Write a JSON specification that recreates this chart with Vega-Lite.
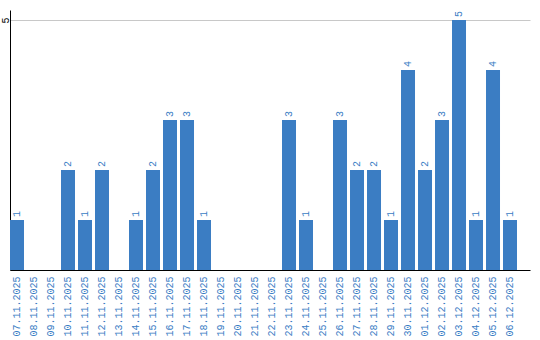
{
  "$schema": "https://vega.github.io/schema/vega-lite/v6.json",
  "width": 520,
  "height": 260,
  "autosize": {"type": "none"},
  "padding": {"left": 10, "top": 10, "right": 10, "bottom": 70},
  "background": "white",
  "config": {"view": {"stroke": null}},
  "data": {"values": [
    {"date": "07.11.2025", "count": 1},
    {"date": "08.11.2025", "count": 0},
    {"date": "09.11.2025", "count": 0},
    {"date": "10.11.2025", "count": 2},
    {"date": "11.11.2025", "count": 1},
    {"date": "12.11.2025", "count": 2},
    {"date": "13.11.2025", "count": 0},
    {"date": "14.11.2025", "count": 1},
    {"date": "15.11.2025", "count": 2},
    {"date": "16.11.2025", "count": 3},
    {"date": "17.11.2025", "count": 3},
    {"date": "18.11.2025", "count": 1},
    {"date": "19.11.2025", "count": 0},
    {"date": "20.11.2025", "count": 0},
    {"date": "21.11.2025", "count": 0},
    {"date": "22.11.2025", "count": 0},
    {"date": "23.11.2025", "count": 3},
    {"date": "24.11.2025", "count": 1},
    {"date": "25.11.2025", "count": 0},
    {"date": "26.11.2025", "count": 3},
    {"date": "27.11.2025", "count": 2},
    {"date": "28.11.2025", "count": 2},
    {"date": "29.11.2025", "count": 1},
    {"date": "30.11.2025", "count": 4},
    {"date": "01.12.2025", "count": 2},
    {"date": "02.12.2025", "count": 3},
    {"date": "03.12.2025", "count": 5},
    {"date": "04.12.2025", "count": 1},
    {"date": "05.12.2025", "count": 4},
    {"date": "06.12.2025", "count": 1}
  ]},
  "encoding": {
    "x": {
      "field": "date", "type": "ordinal", "sort": null,
      "scale": {"paddingInner": 0.1765, "paddingOuter": 0.382, "align": 0},
      "axis": {
        "title": null, "ticks": false, "domainColor": "black", "domainWidth": 1,
        "labelAngle": -90, "labelAlign": "right", "labelBaseline": "middle",
        "labelPadding": 6, "labelFont": "Liberation Mono", "labelFontSize": 10,
        "labelColor": "#3a7dc4"
      }
    },
    "y": {
      "field": "count", "type": "quantitative",
      "scale": {"domain": [0, 5.2], "nice": false},
      "axis": {
        "title": null, "values": [5], "ticks": false, "domainColor": "black",
        "gridColor": "#c8c8c8", "labelAngle": -90, "labelAlign": "center",
        "labelBaseline": "middle", "labelPadding": 5,
        "labelFont": "Liberation Mono", "labelFontSize": 10, "labelColor": "black"
      }
    }
  },
  "layer": [
    {"mark": {"type": "bar", "color": "#3b7dc3"}},
    {
      "transform": [{"filter": "datum.count > 0"}],
      "mark": {"type": "text", "angle": -90, "align": "left", "baseline": "middle",
               "dx": 3, "font": "Liberation Mono", "fontSize": 10, "color": "#3a7dc4"},
      "encoding": {"text": {"field": "count", "type": "quantitative"}}
    }
  ]
}
